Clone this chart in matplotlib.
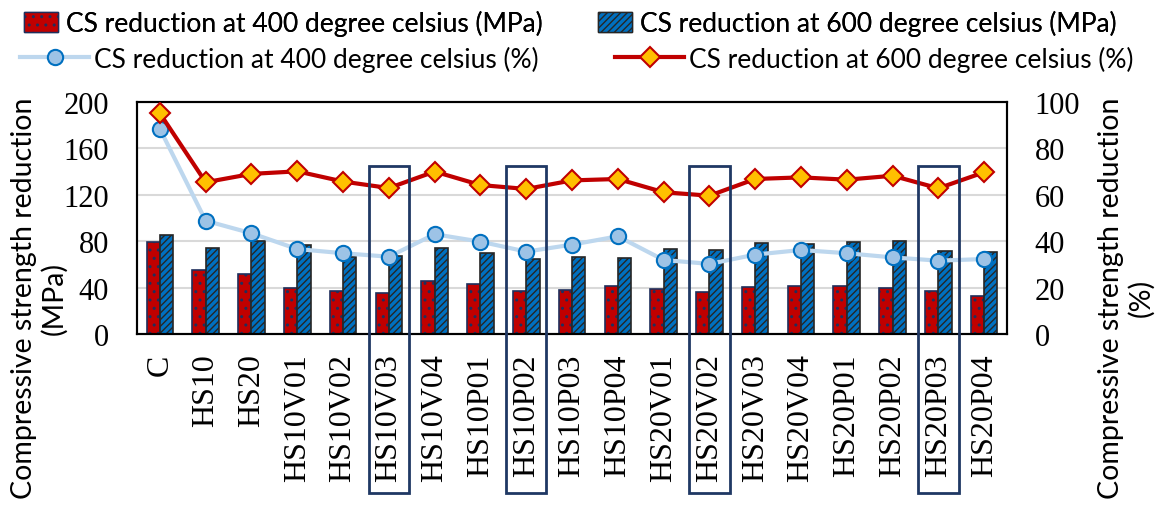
import numpy as np
import matplotlib.pyplot as plt
from matplotlib.patches import Rectangle
from matplotlib.lines import Line2D
import matplotlib.transforms as mtransforms

# Mix names, CS reduction in MPa (bars) and % (lines)
mixes = ['C', 'HS10', 'HS20', 'HS10V01', 'HS10V02', 'HS10V03', 'HS10V04',
         'HS10P01', 'HS10P02', 'HS10P03', 'HS10P04', 'HS20V01', 'HS20V02',
         'HS20V03', 'HS20V04', 'HS20P01', 'HS20P02', 'HS20P03', 'HS20P04']
mpa_400 = [79, 55, 52, 40, 37, 35.5, 45.5, 43, 37, 38, 41, 38.5, 36.5, 40.5, 41, 41.5, 39.5, 37, 33]
mpa_600 = [85, 74, 80, 77, 66, 67, 74, 70, 64.5, 66, 65.5, 73, 72, 78.5, 77.5, 79, 80, 71.5, 70.5]
pct_400 = [88.4, 48.8, 43.4, 36.6, 34.8, 33.3, 43, 39.8, 35.5, 38.5, 42.1, 31.9, 30.2, 34.2,
           36.2, 34.8, 33, 31.6, 32.3]
pct_600 = [95.1, 65.4, 69, 70.1, 65.7, 62.9, 70, 64.2, 62.5, 66.2, 66.8, 61.1, 59.6, 66.8,
           67.5, 66.5, 68.2, 62.8, 69.7]
boxed = ['HS10V03', 'HS10P02', 'HS20V02', 'HS20P03']

sans = ['Lato', 'DejaVu Sans']
serif = 'Liberation Serif'

fig = plt.figure(figsize=(11.63, 5.06), dpi=100)
ax = fig.add_axes([0.1178, 0.338, 0.7481, 0.4585])
ax2 = ax.twinx()

x = np.arange(len(mixes))
w = 0.29
ax.bar(x - w/2, mpa_400, w, color='#C00000', edgecolor='#1F2F5C', hatch='..', linewidth=1.2, zorder=2)
ax.bar(x + w/2, mpa_600, w, color='#0070C0', edgecolor='#262626', hatch='/////', linewidth=1.2, zorder=2)

ax.set_ylim(0, 200)
ax.set_yticks(range(0, 201, 40))
ax.set_xlim(-0.5, len(mixes) - 0.5)
ax.set_xticks(x)
ax.set_xticklabels(mixes, rotation=90, fontfamily=serif, fontsize=23)
ax.tick_params(axis='x', length=0, pad=14)
ax.tick_params(axis='y', length=0, pad=20, labelsize=22)
for lab in ax.get_yticklabels():
    lab.set_fontfamily(serif)
ax.grid(axis='y', color='#D9D9D9', linewidth=1.5, zorder=0)
ax.set_axisbelow(True)

ax2.plot(x, pct_400, color='#BDD7EE', linewidth=3, marker='o', markersize=11,
         markerfacecolor='#9DC3E6', markeredgecolor='#0070C0', markeredgewidth=1.5, zorder=3)
ax2.plot(x, pct_600, color='#C00000', linewidth=3, marker='D', markersize=10,
         markerfacecolor='#FFC000', markeredgecolor='#C00000', markeredgewidth=1.5, zorder=4)
ax2.set_ylim(0, 100)
ax2.set_yticks(range(0, 101, 20))
ax2.tick_params(axis='y', length=0, pad=20, labelsize=22)
for lab in ax2.get_yticklabels():
    lab.set_fontfamily(serif)

for a in (ax, ax2):
    for s in a.spines.values():
        s.set_color('black')
        s.set_linewidth(1.5)

# axis titles placed as figure text
fig.text(0.034, 0.411, 'Compressive strength reduction\n(MPa)', rotation=90, ha='center', va='center',
         multialignment='center', fontfamily=sans, fontsize=20.5, linespacing=1.15)
fig.text(0.9682, 0.411, 'Compressive strength reduction\n(%)', rotation=90, ha='center', va='center',
         multialignment='center', fontfamily=sans, fontsize=20.5, linespacing=1.15)

# highlight boxes around selected mixes
trans = mtransforms.blended_transform_factory(ax.transData, ax.transAxes)
for name in boxed:
    i = mixes.index(name)
    ax2.add_patch(Rectangle((i - 0.44, -0.685), 0.88, 1.409, transform=trans, fill=False,
                            edgecolor='#1F3864', linewidth=2, clip_on=False, zorder=5))

bar_handles = [Rectangle((0, 0), 1, 1, facecolor='#C00000', edgecolor='#1F2F5C', hatch='..'),
               Rectangle((0, 0), 1, 1, facecolor='#0070C0', edgecolor='#262626', hatch='/////')]
line_handles = [Line2D([], [], color='#BDD7EE', linewidth=3, marker='o', markersize=11,
                       markerfacecolor='#9DC3E6', markeredgecolor='#0070C0', markeredgewidth=1.5),
                Line2D([], [], color='#C00000', linewidth=3, marker='D', markersize=10,
                       markerfacecolor='#FFC000', markeredgecolor='#C00000', markeredgewidth=1.5)]
leg1 = fig.legend(bar_handles, ['CS reduction at 400 degree celsius (MPa)', 'CS reduction at 600 degree celsius (MPa)'],
                  loc='upper left', bbox_to_anchor=(0.0, 1.025), ncol=2, frameon=False,
                  prop={'family': sans, 'size': 19}, handlelength=1.3, handleheight=0.8,
                  handletextpad=0.3, columnspacing=2.1)
leg2 = fig.legend(line_handles, ['CS reduction at 400 degree celsius (%)', 'CS reduction at 600 degree celsius (%)'],
                  loc='upper left', bbox_to_anchor=(-0.003, 0.955), ncol=2, frameon=False,
                  prop={'family': sans, 'size': 19}, handlelength=2.6,
                  handletextpad=0.2, columnspacing=2.9)
fig.add_artist(leg1)

fig.savefig('out.png', dpi=100)
